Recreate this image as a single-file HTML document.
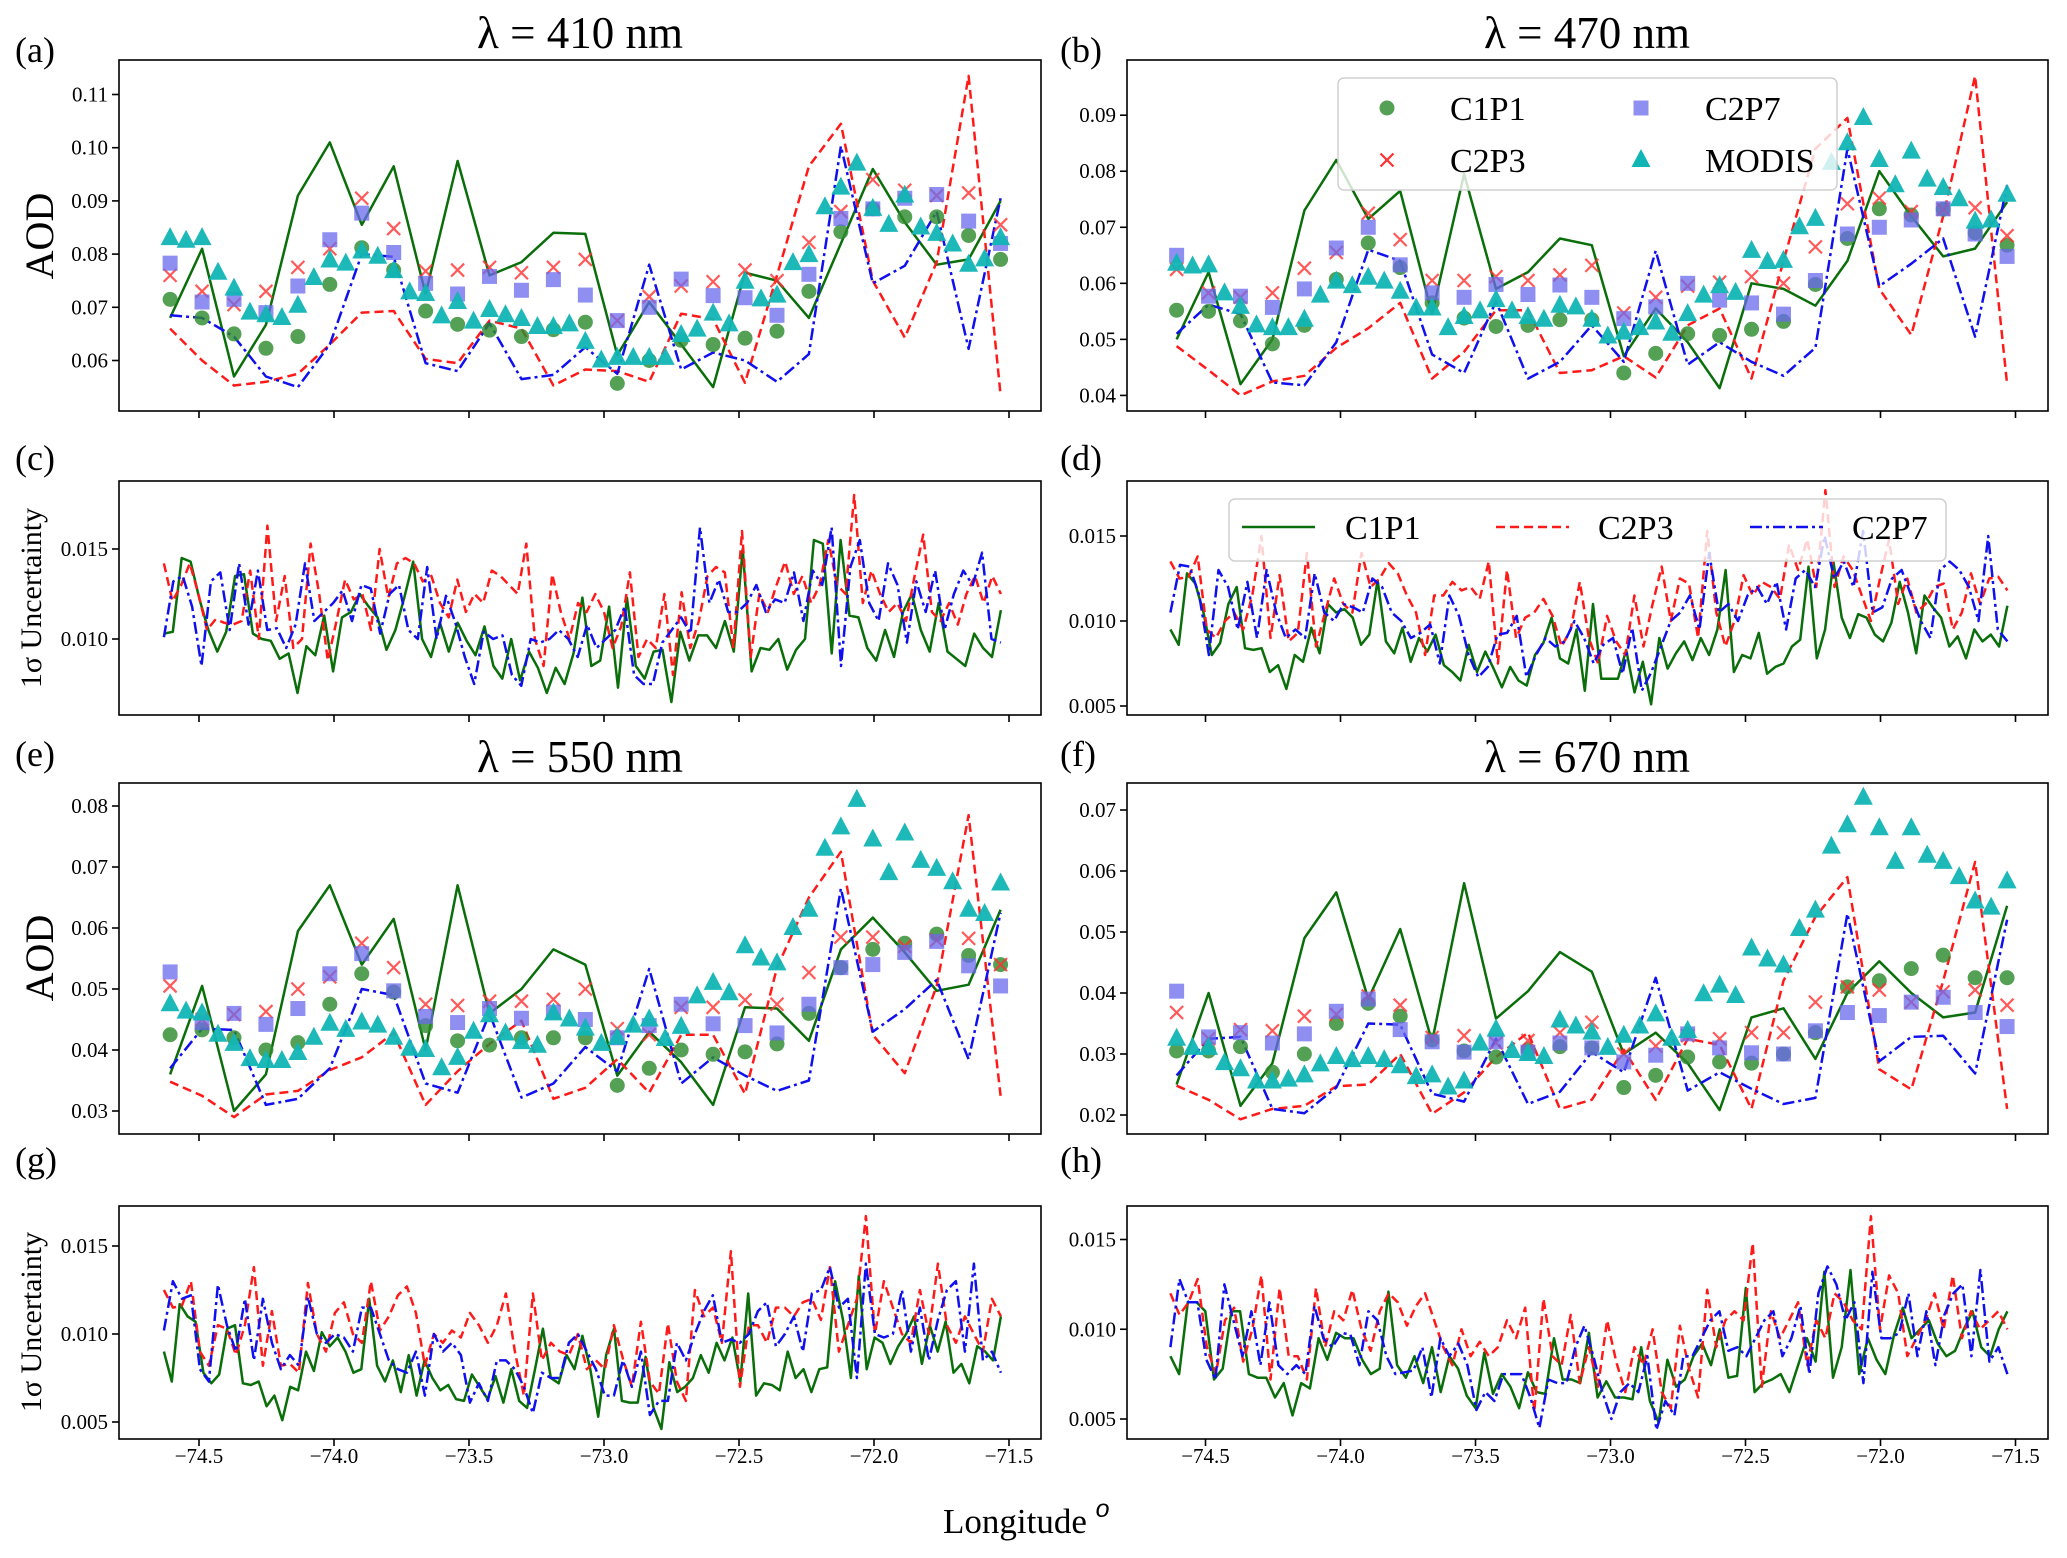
<!DOCTYPE html>
<html><head><meta charset="utf-8"><style>
html,body{margin:0;padding:0;background:#fff;}
svg{display:block;font-family:"Liberation Serif",serif;}
</style></head><body>
<svg id="fig" width="2067" height="1558" viewBox="0 0 2067 1558" xmlns="http://www.w3.org/2000/svg"></svg>
<script>
// ---------- DATA ----------
const aodLonStart = -74.607, aodLonStep = 0.1183;   // 27 retrieval points
const modisLonStep = 0.05915;                        // 53 MODIS points
const uncLonStart = -74.63, uncLonEnd = -71.53;
const xTicks = [-74.5, -74.0, -73.5, -73.0, -72.5, -72.0, -71.5];
const xTickLabels = ["\u221274.5","\u221274.0","\u221273.5","\u221273.0","\u221272.5","\u221272.0","\u221271.5"];

// Panel (a) 410 nm
const a_lineC1P1 = [0.068,0.081,0.057,0.0667,0.091,0.101,0.0855,0.0965,0.0725,0.0975,0.076,0.0785,0.084,0.0838,0.061,0.071,0.063,0.055,0.0765,0.075,0.068,0.082,0.096,0.086,0.078,0.079,0.090];
const a_lineC2P3 = [0.066,0.060,0.0553,0.056,0.0575,0.063,0.069,0.0693,0.0603,0.0595,0.0675,0.066,0.0553,0.0583,0.058,0.056,0.0688,0.0678,0.0558,0.076,0.0965,0.1045,0.075,0.0643,0.0785,0.1135,0.0535];
const a_lineC2P7 = [0.0685,0.068,0.0645,0.057,0.055,0.063,0.080,0.0795,0.0595,0.058,0.067,0.0565,0.0573,0.0625,0.0575,0.078,0.0583,0.0615,0.060,0.056,0.0612,0.1003,0.0745,0.0778,0.088,0.0622,0.0905];
const a_ptC1P1 = [0.0715,0.068,0.065,0.0623,0.0645,0.0743,0.0812,0.077,0.0693,0.0668,0.0657,0.0645,0.0658,0.0672,0.0557,0.060,0.0638,0.063,0.0642,0.0655,0.073,0.0842,0.0885,0.087,0.087,0.0835,0.079];
const a_ptC2P3 = [0.076,0.073,0.0705,0.073,0.0775,0.081,0.0905,0.0848,0.0768,0.077,0.0775,0.0765,0.0775,0.079,0.0675,0.072,0.074,0.0748,0.077,0.075,0.0822,0.088,0.094,0.092,0.091,0.0915,0.0855];
const a_ptC2P7 = [0.0783,0.071,0.0715,0.069,0.074,0.0827,0.0877,0.0803,0.0745,0.0725,0.0758,0.0732,0.0752,0.0723,0.0675,0.070,0.0753,0.0722,0.0718,0.0685,0.0762,0.0867,0.0885,0.0905,0.0912,0.0862,0.082];
const a_modis = [0.083,0.0825,0.083,0.0765,0.0735,0.069,0.0685,0.068,0.0703,0.0755,0.0788,0.0782,0.0805,0.0795,0.0768,0.0728,0.0725,0.0683,0.071,0.0673,0.0695,0.0685,0.0678,0.0663,0.0663,0.0668,0.0635,0.060,0.0605,0.0605,0.0605,0.0605,0.0648,0.0658,0.0688,0.0668,0.0748,0.0715,0.0722,0.0783,0.0798,0.0888,0.0925,0.097,0.0885,0.0855,0.091,0.085,0.0838,0.0818,0.078,0.079,0.083];

// Panel (b) 470 nm
const b_lineC1P1 = [0.050,0.062,0.042,0.050,0.073,0.082,0.0715,0.0765,0.0545,0.0795,0.059,0.062,0.068,0.0668,0.047,0.0555,0.0495,0.0413,0.060,0.059,0.056,0.064,0.080,0.072,0.0648,0.0662,0.0745];
const b_lineC2P3 = [0.0488,0.0445,0.040,0.0425,0.0435,0.0485,0.052,0.0565,0.043,0.0478,0.0552,0.0552,0.044,0.0445,0.047,0.0432,0.0525,0.0555,0.043,0.064,0.084,0.0895,0.059,0.0508,0.072,0.097,0.042];
const b_lineC2P7 = [0.051,0.0562,0.0545,0.0423,0.0418,0.0495,0.066,0.064,0.0473,0.044,0.0568,0.043,0.046,0.0525,0.046,0.0658,0.0455,0.0495,0.046,0.0435,0.0485,0.084,0.0595,0.0635,0.068,0.0505,0.0775];
const b_ptC1P1 = [0.0552,0.055,0.0533,0.0492,0.0525,0.0607,0.0672,0.0628,0.0565,0.0538,0.0523,0.0525,0.0535,0.0535,0.044,0.0475,0.051,0.0507,0.0518,0.0532,0.0598,0.068,0.0733,0.0722,0.0732,0.069,0.0668];
const b_ptC2P3 = [0.0625,0.0583,0.0575,0.0583,0.0627,0.0655,0.0725,0.0678,0.0605,0.0605,0.0612,0.0605,0.0615,0.0632,0.0547,0.0575,0.0595,0.0602,0.0612,0.060,0.0665,0.0742,0.0752,0.0728,0.0732,0.0735,0.0685];
const b_ptC2P7 = [0.065,0.0577,0.0577,0.0557,0.059,0.0663,0.070,0.0633,0.0583,0.0575,0.0598,0.058,0.0597,0.0575,0.0537,0.0558,0.060,0.057,0.0565,0.0545,0.0605,0.0688,0.070,0.0713,0.0733,0.0688,0.0648];
const b_modis = [0.0635,0.063,0.0632,0.0582,0.0558,0.0525,0.052,0.052,0.0535,0.0578,0.0603,0.0595,0.061,0.0603,0.0585,0.0555,0.0555,0.052,0.054,0.055,0.057,0.055,0.054,0.0535,0.056,0.0557,0.0535,0.0505,0.0512,0.052,0.053,0.051,0.0545,0.0578,0.0595,0.0583,0.0658,0.0638,0.064,0.070,0.0715,0.0815,0.085,0.0895,0.082,0.0775,0.0835,0.0785,0.077,0.075,0.071,0.0712,0.0758];

// Panel (e) 550 nm
const e_lineC1P1 = [0.036,0.0505,0.030,0.036,0.0595,0.067,0.054,0.0615,0.040,0.067,0.046,0.050,0.0565,0.054,0.0358,0.043,0.038,0.031,0.047,0.0468,0.0415,0.0565,0.0617,0.056,0.0497,0.0507,0.063];
const e_lineC2P3 = [0.0348,0.0325,0.029,0.0327,0.0333,0.0367,0.0388,0.0428,0.031,0.0365,0.041,0.0448,0.032,0.0338,0.0385,0.033,0.0425,0.0425,0.0328,0.0535,0.065,0.0725,0.0425,0.0362,0.0505,0.0785,0.0325];
const e_lineC2P7 = [0.037,0.0435,0.0433,0.031,0.032,0.037,0.050,0.049,0.0345,0.033,0.046,0.0322,0.0345,0.0405,0.0365,0.0533,0.0345,0.0388,0.0358,0.0333,0.035,0.0665,0.043,0.0467,0.0515,0.0385,0.0625];
const e_ptC1P1 = [0.0425,0.0433,0.042,0.040,0.0412,0.0475,0.0525,0.0495,0.044,0.0415,0.0408,0.042,0.042,0.042,0.0342,0.037,0.040,0.0393,0.0397,0.041,0.046,0.0535,0.0565,0.0575,0.059,0.0555,0.054];
const e_ptC2P3 = [0.0505,0.045,0.0458,0.0463,0.050,0.052,0.0575,0.0535,0.0475,0.0473,0.048,0.048,0.0483,0.050,0.0435,0.0425,0.047,0.047,0.0482,0.0475,0.0527,0.0585,0.0585,0.057,0.058,0.0583,0.054];
const e_ptC2P7 = [0.0528,0.0445,0.046,0.0442,0.0468,0.0525,0.0558,0.0497,0.0455,0.0445,0.0468,0.0452,0.0462,0.045,0.042,0.044,0.0475,0.0443,0.044,0.0428,0.0475,0.0535,0.054,0.056,0.0578,0.0538,0.0505];
const e_modis = [0.0475,0.0463,0.046,0.0425,0.041,0.0385,0.0382,0.0382,0.0395,0.042,0.0443,0.0433,0.0445,0.044,0.042,0.0402,0.040,0.037,0.0387,0.043,0.0457,0.0427,0.0413,0.0407,0.046,0.045,0.0435,0.041,0.042,0.044,0.045,0.0418,0.0438,0.0488,0.051,0.0493,0.057,0.055,0.0542,0.060,0.063,0.073,0.0765,0.081,0.0745,0.069,0.0755,0.071,0.0697,0.0675,0.063,0.0623,0.0673];

// Panel (f) 670 nm
const f_lineC1P1 = [0.025,0.040,0.0215,0.0285,0.049,0.0565,0.039,0.0505,0.032,0.058,0.0358,0.0403,0.0467,0.0435,0.030,0.0335,0.0285,0.0208,0.036,0.0375,0.0292,0.040,0.0452,0.040,0.036,0.0368,0.0543];
const f_lineC2P3 = [0.0248,0.0225,0.0193,0.021,0.0215,0.0247,0.025,0.030,0.0202,0.0237,0.0295,0.0335,0.021,0.0225,0.0307,0.0225,0.0325,0.0315,0.021,0.042,0.0525,0.059,0.0275,0.0242,0.042,0.0615,0.021];
const f_lineC2P7 = [0.0265,0.0325,0.0328,0.021,0.0203,0.0245,0.035,0.0348,0.0235,0.0222,0.0325,0.0218,0.0238,0.0303,0.027,0.0425,0.024,0.027,0.0243,0.0218,0.0228,0.053,0.0288,0.0328,0.033,0.0268,0.052];
const f_ptC1P1 = [0.0305,0.0305,0.0312,0.027,0.030,0.035,0.0383,0.0362,0.0323,0.0305,0.0295,0.0307,0.0312,0.031,0.0245,0.0265,0.0295,0.0287,0.0285,0.030,0.0335,0.041,0.042,0.044,0.0462,0.0425,0.0425];
const f_ptC2P3 = [0.0368,0.0325,0.034,0.0338,0.0362,0.0365,0.0395,0.038,0.0327,0.033,0.0318,0.0322,0.0335,0.0352,0.030,0.0313,0.033,0.0325,0.0335,0.0335,0.0385,0.041,0.0405,0.0385,0.0402,0.0405,0.038];
const f_ptC2P7 = [0.0403,0.0328,0.0335,0.0318,0.0333,0.037,0.039,0.034,0.032,0.0303,0.032,0.0303,0.0318,0.031,0.0287,0.0298,0.0333,0.031,0.0302,0.030,0.0338,0.0368,0.0363,0.0385,0.0393,0.0368,0.0345];
const f_modis = [0.0325,0.031,0.031,0.0285,0.0275,0.0255,0.0255,0.0258,0.0265,0.0283,0.0295,0.029,0.0295,0.029,0.028,0.0262,0.0265,0.0245,0.0255,0.0317,0.034,0.0305,0.030,0.0295,0.0355,0.0345,0.0335,0.031,0.033,0.0345,0.0365,0.0325,0.0338,0.0398,0.0412,0.0395,0.0473,0.0455,0.0445,0.0505,0.0535,0.064,0.0675,0.072,0.067,0.0615,0.067,0.0625,0.0615,0.059,0.055,0.054,0.0583];

// Uncertainty panels (values in units of 1e-3)
const c_C1P1 = [10.3,10.4,14.5,14.3,12.2,10.5,9.3,10.4,13.5,13.6,10.3,10.0,9.9,8.9,9.2,7.0,9.6,9.1,11.3,8.2,11.2,11.5,12.5,11.8,11.2,9.4,10.5,12.3,14.3,10.0,9.0,10.9,9.3,10.9,9.9,9.1,10.7,8.5,7.8,10.0,7.7,9.3,8.4,7.0,8.4,7.5,9.2,12.3,8.5,8.8,11.8,7.3,12.3,8.5,7.8,9.3,9.4,6.5,10.4,8.8,10.2,10.2,9.5,11.0,9.3,15.0,8.2,9.5,9.4,10.0,8.3,9.4,10.0,15.5,15.3,9.2,15.5,11.3,11.2,9.5,8.8,10.5,9.0,11.5,12.5,10.5,9.3,12.0,9.3,8.9,8.5,10.3,9.5,9.0,11.6];
const c_C2P3 = [14.2,12.1,13.0,14.2,12.5,10.5,11.1,10.9,10.8,11.0,13.8,10.0,16.3,11.0,13.5,9.5,10.0,15.3,12.5,8.8,11.0,13.3,12.2,12.5,10.5,15.0,12.3,14.2,14.5,14.2,13.2,13.5,12.0,11.2,13.3,11.5,12.5,12.0,13.8,13.5,13.0,12.5,15.3,10.0,8.5,13.6,11.5,10.0,12.0,11.5,12.5,11.5,9.5,10.7,13.7,9.0,10.0,9.5,12.5,8.0,12.6,9.5,11.0,13.5,14.0,13.7,9.5,16.0,9.0,12.5,11.5,13.0,14.3,12.5,13.5,12.0,13.0,15.5,13.0,12.5,18.0,12.0,13.8,12.5,11.5,12.0,11.0,13.5,15.8,11.5,11.0,12.0,10.8,12.5,13.5,12.0,13.5,12.5];
const c_C2P7 = [10.1,13.2,13.5,11.8,8.5,13.2,13.7,10.5,14.2,10.8,13.8,10.5,10.6,9.5,10.8,14.2,11.0,11.5,12.0,12.7,11.0,13.0,12.8,10.3,12.5,13.0,10.5,10.0,14.0,10.0,12.4,10.9,9.0,7.5,10.4,10.0,10.2,8.0,7.4,10.0,9.8,10.0,10.5,10.0,9.0,10.8,9.5,10.0,10.5,11.8,8.0,7.5,7.5,9.8,10.5,11.2,10.3,16.2,12.0,13.3,11.5,11.5,12.0,13.0,11.5,12.2,12.0,13.7,11.0,13.8,13.0,16.2,8.5,14.0,15.5,12.0,11.0,14.2,13.0,9.8,13.2,11.5,13.8,10.5,12.5,13.8,13.0,14.8,10.0,9.8];
const d_C1P1 = [9.5,8.6,12.8,12.2,10.5,8.0,8.7,11.0,12.0,8.4,8.3,8.4,7.0,7.4,6.0,8.0,7.6,9.6,8.1,11.0,10.5,10.7,10.2,8.6,9.2,12.4,8.8,8.1,9.6,7.6,9.0,8.2,9.2,7.4,7.0,6.5,8.6,7.0,8.2,7.2,6.1,7.3,6.5,6.2,8.0,8.7,10.2,7.8,7.5,9.5,5.9,11.0,6.6,6.6,6.6,8.3,5.8,7.6,5.1,9.0,7.2,8.1,8.8,7.7,9.0,8.0,9.5,13.0,7.0,8.0,7.8,9.3,6.9,7.3,7.5,8.5,8.9,13.2,7.8,9.5,13.5,10.2,9.0,10.4,10.2,9.2,8.8,9.9,12.3,10.5,8.1,11.5,10.8,10.2,8.5,9.1,7.8,9.5,8.8,9.2,8.5,10.9];
const d_C2P3 = [13.5,12.5,12.6,13.8,9.5,9.0,10.0,10.5,9.5,11.5,15.0,9.0,12.7,8.8,9.3,14.0,8.5,10.5,12.5,11.0,10.5,14.0,12.0,12.5,13.4,12.8,11.5,10.5,8.0,11.5,11.5,12.3,11.8,12.0,11.3,13.5,7.5,13.0,9.0,10.2,10.5,11.3,10.3,8.5,9.5,12.3,9.0,7.5,10.3,8.8,8.0,11.5,8.5,11.0,13.2,10.0,12.5,12.2,9.0,15.3,10.5,8.5,10.0,12.7,11.5,12.3,12.0,11.3,14.5,13.0,14.8,12.0,17.7,12.0,13.8,13.0,11.5,10.0,12.5,14.8,11.0,12.5,10.5,11.0,12.0,12.2,9.5,10.5,12.8,11.0,12.5,12.6,11.8];
const d_C2P7 = [10.5,13.3,13.2,11.5,8.0,13.0,12.0,9.5,12.3,9.0,13.0,10.5,9.0,9.5,9.0,12.8,10.5,10.0,11.0,10.8,10.5,12.5,12.0,10.5,10.0,9.0,9.3,9.8,7.5,11.5,10.3,8.0,6.7,7.3,9.2,9.3,10.3,6.7,8.0,9.0,8.5,8.8,10.0,9.0,7.5,8.6,9.0,6.9,9.6,5.9,7.0,8.5,10.0,10.5,11.5,9.5,14.0,10.5,11.0,10.0,11.5,12.0,11.0,12.3,9.5,12.5,13.0,12.0,15.0,12.5,13.5,12.0,15.3,10.5,10.8,12.5,13.0,11.5,10.0,9.0,13.0,13.5,13.0,12.0,10.0,15.0,9.5,8.8];
const g_C1P1 = [9.0,7.3,11.7,11.0,10.7,7.8,7.2,7.7,10.3,10.5,7.2,7.1,7.3,5.9,6.5,5.1,7.0,6.8,9.0,7.9,10.1,9.3,9.8,9.0,7.8,8.0,12.0,8.2,7.3,8.5,6.7,8.8,6.5,8.5,7.5,6.8,7.1,6.3,6.2,7.7,7.0,6.3,7.6,6.1,8.0,6.2,5.8,8.0,10.3,7.5,7.2,8.8,8.0,9.9,8.0,5.3,8.8,10.3,6.2,6.1,6.1,8.7,5.8,4.6,8.4,6.7,7.0,7.5,8.8,7.8,9.5,8.5,9.8,7.3,12.3,6.5,7.2,7.1,6.8,9.0,7.5,8.0,6.7,8.0,8.1,13.0,10.8,7.5,13.3,8.0,9.8,9.5,8.3,9.3,10.0,11.0,8.3,10.5,9.0,10.7,7.8,8.3,7.2,9.3,9.0,8.5,11.0];
const g_C2P3 = [12.5,11.5,11.6,13.0,9.0,8.2,10.5,10.3,8.8,10.5,13.8,8.2,11.3,8.2,8.3,7.8,12.9,10.0,9.0,11.2,11.8,10.0,9.5,13.0,10.2,11.0,12.2,12.7,11.2,8.2,10.0,9.5,10.2,9.8,11.2,10.5,9.5,10.5,12.3,9.0,6.5,12.3,8.5,9.5,9.0,8.8,10.0,8.0,8.5,8.0,10.5,8.6,7.0,10.7,7.3,6.6,10.6,7.3,6.2,12.5,11.0,11.5,9.5,14.7,7.0,10.5,10.5,9.5,11.5,11.5,11.0,11.8,12.0,10.8,13.8,9.0,10.5,12.0,16.7,10.0,13.0,11.5,10.0,9.5,12.5,10.0,14.0,10.5,9.5,11.0,10.0,9.0,12.0,11.0];
const g_C2P7 = [10.2,13.0,12.0,12.2,8.0,7.3,12.8,10.5,9.0,12.0,8.5,12.0,9.5,8.0,8.8,8.2,12.1,10.0,9.5,10.0,9.8,9.0,11.5,11.5,10.0,8.5,8.0,7.8,9.0,6.5,10.0,9.0,9.5,8.8,6.1,7.2,6.2,8.5,8.5,8.0,7.0,5.5,7.8,7.5,7.5,9.5,10.0,9.0,8.0,6.5,6.5,8.5,7.0,9.0,5.4,6.2,6.2,9.5,8.5,10.0,11.3,12.2,9.5,9.7,9.5,10.0,11.3,11.8,9.3,10.0,11.0,9.0,12.3,12.5,13.8,11.5,12.0,7.5,14.0,10.0,9.8,10.0,12.5,9.0,11.5,8.5,10.8,12.5,13.0,9.0,14.0,8.5,9.0,7.8];
const h_C1P1 = [8.5,7.5,11.5,11.5,11.0,7.2,7.8,11.0,11.0,7.5,7.3,7.3,6.2,7.0,5.2,7.0,6.7,9.5,8.3,9.8,9.5,9.5,8.3,7.5,7.8,12.1,8.0,7.3,8.5,7.0,9.0,6.5,8.5,7.8,6.3,5.6,8.7,6.4,7.5,6.8,5.6,7.6,6.5,6.4,9.5,7.2,7.2,7.0,9.8,6.2,7.1,6.2,6.2,6.1,9.0,6.0,4.8,8.3,6.8,7.2,8.5,9.2,8.0,10.0,7.3,7.4,12.3,6.5,7.0,7.2,7.5,6.5,8.0,9.5,8.2,13.2,7.3,9.0,13.3,7.5,9.5,8.3,7.5,9.7,11.2,9.5,10.0,10.5,9.2,8.5,8.8,10.0,11.0,9.0,8.5,10.0,11.0];
const h_C2P3 = [12.0,10.8,11.5,12.8,9.0,7.5,10.5,11.2,8.2,10.0,13.0,7.2,12.3,8.5,8.5,7.2,12.3,9.0,11.0,10.5,12.2,10.0,8.8,11.0,12.0,11.5,10.2,11.3,12.0,10.5,9.0,8.0,10.0,8.5,9.3,8.5,9.0,10.5,9.5,11.2,5.4,11.7,8.5,8.0,10.8,7.0,9.0,6.8,10.5,8.2,6.5,9.0,8.0,10.0,6.5,5.6,10.2,7.8,6.2,12.2,9.0,10.5,11.0,10.5,14.8,6.8,11.0,9.5,10.5,11.5,8.0,10.5,9.5,12.0,11.5,10.5,10.0,16.3,10.0,13.0,12.0,8.5,9.5,10.5,12.0,10.0,13.0,9.5,11.0,10.0,10.5,11.0,10.0];
const h_C2P7 = [9.0,12.8,11.5,11.5,8.3,7.2,12.5,10.5,8.5,11.0,8.0,11.5,8.0,7.5,8.0,7.5,11.3,9.5,9.0,9.8,9.7,8.0,11.0,10.5,8.5,7.5,7.6,7.7,9.0,6.2,9.5,8.5,9.2,8.0,5.5,6.5,6.0,7.5,7.5,7.5,6.2,4.5,7.2,7.0,7.0,9.0,10.2,8.5,6.5,5.0,6.5,7.0,6.5,8.5,4.4,6.0,5.2,8.5,8.5,9.5,10.5,11.0,8.8,9.0,8.5,9.5,10.5,11.0,8.5,9.5,11.3,7.5,12.0,13.5,12.5,10.5,11.5,7.0,13.2,9.5,9.5,9.8,12.0,8.5,11.0,8.0,10.8,12.0,12.5,8.5,13.3,8.2,9.0,7.5];

// tick values/labels
const a_yTicks = [0.06,0.07,0.08,0.09,0.10,0.11];
const b_yTicks = [0.04,0.05,0.06,0.07,0.08,0.09];
const e_yTicks = [0.03,0.04,0.05,0.06,0.07,0.08];
const f_yTicks = [0.02,0.03,0.04,0.05,0.06,0.07];
const c_yTicks = [10,15];
const u_yTicks = [5,10,15];
// ---------- END DATA ----------

const NS = "http://www.w3.org/2000/svg";
const svg = document.getElementById('fig');
function el(tag, attrs, parent){
  const e = document.createElementNS(NS, tag);
  for (const k in attrs) e.setAttribute(k, attrs[k]);
  (parent||svg).appendChild(e);
  return e;
}
const LEFT = {x0:119, x1:1041, xa:199};
const RIGHT = {x0:1127, x1:2048, xa:1205.5};
const PXDEG = 270;

function makePanel(name, col, top, bot, v1, p1, v2, p2, yTicks, fmt){
  const g = el('g', {});
  
  
  const xs = lon => col.xa + (lon + 74.5) * PXDEG;
  const ys = v => p1 + (v - v1) * (p2 - p1) / (v2 - v1);
  const cid = 'clip-' + name;
  const cp = el('clipPath', {id: cid}, g);
  el('rect', {x: col.x0, y: top, width: col.x1 - col.x0, height: bot - top}, cp);
  const plot = el('g', {'clip-path': 'url(#' + cid + ')'}, g);
  
  
  xTicks.forEach((t, i) => {
    const tk = el('line', {x1: xs(t), x2: xs(t), y1: bot, y2: bot + 7, stroke: '#000', 'stroke-width': 1.6}, g);
    
    
  });
  yTicks.forEach(t => {
    const y = ys(t);
    const tk = el('line', {x1: col.x0 - 7, x2: col.x0, y1: y, y2: y, stroke: '#000', 'stroke-width': 1.6}, g);
    
    
    const tl = el('text', {x: col.x0 - 11, y: y + 7, 'text-anchor': 'end', 'font-size': 21, fill: '#000'}, g);
    
    
    tl.textContent = fmt(t);
  });
  const fr = el('rect', {x: col.x0, y: top, width: col.x1 - col.x0, height: bot - top, fill: 'none', stroke: '#000', 'stroke-width': 1.6}, g);
  
  
  return {g, plot, xs, ys};
}

function drawLine(P, lons, vals, color, dash, nm){
  const pts = vals.map((v, i) => P.xs(lons(i)).toFixed(1) + ',' + P.ys(v).toFixed(1)).join(' ');
  const pl = el('polyline', {points: pts, fill: 'none', stroke: color, 'stroke-width': 2.5, 'stroke-dasharray': dash, 'stroke-linejoin': 'round'}, P.plot);
  
  
}
function drawMarkers(P, lons, vals, kind, nm){
  const grp = el('g', {}, P.plot);
  
  
  vals.forEach((v, i) => {
    const x = P.xs(lons(i)), y = P.ys(v);
    let m;
    if (kind === 'circle') m = el('circle', {cx: x, cy: y, r: 7.5, fill: '#2e8b2e', 'fill-opacity': 0.82}, grp);
    else if (kind === 'square') m = el('rect', {x: x - 7.5, y: y - 7.5, width: 15, height: 15, fill: '#6a6aee', 'fill-opacity': 0.75}, grp);
    else if (kind === 'x') m = el('path', {d: `M${x-6.5},${y-6.5}L${x+6.5},${y+6.5}M${x-6.5},${y+6.5}L${x+6.5},${y-6.5}`, stroke: '#ff3030', 'stroke-opacity': 0.8, 'stroke-width': 2.2, fill: 'none'}, grp);
    else m = el('path', {d: `M${x},${y-11}L${x+9.5},${y+7}L${x-9.5},${y+7}Z`, fill: '#11b5b5', 'fill-opacity': 0.95}, grp);
    
    
  });
}

const lonAod = i => aodLonStart + i * aodLonStep;
const lonModis = i => aodLonStart + i * modisLonStep;
const fmt2 = v => v.toFixed(2);
const fmt3 = v => (v / 1000).toFixed(3);

function aodPanel(name, col, top, bot, v1, p1, v2, p2, ticks, L1, L3, L7, P1, P3, P7, MO){
  const P = makePanel(name, col, top, bot, v1, p1, v2, p2, ticks, fmt2);
  drawLine(P, lonAod, L1, '#0a6e0a', 'none', name + '-c1p1-line');
  drawLine(P, lonAod, L3, '#ff1a1a', '9,5', name + '-c2p3-line');
  drawLine(P, lonAod, L7, '#1010ee', '12,4,3,4', name + '-c2p7-line');
  drawMarkers(P, lonAod, P1, 'circle', name + '-c1p1-points');
  drawMarkers(P, lonAod, P3, 'x', name + '-c2p3-points');
  drawMarkers(P, lonAod, P7, 'square', name + '-c2p7-points');
  drawMarkers(P, lonModis, MO, 'tri', name + '-modis-points');
  return P;
}
function uncPanel(name, col, top, bot, v1, p1, v2, p2, ticks, U1, U3, U7){
  const P = makePanel(name, col, top, bot, v1, p1, v2, p2, ticks, fmt3);
  const lonU = arr => i => uncLonStart + i * (uncLonEnd - uncLonStart) / (arr.length - 1);
  drawLine(P, lonU(U1), U1, '#0a6e0a', 'none', name + '-c1p1-line');
  drawLine(P, lonU(U3), U3, '#ff1a1a', '9,5', name + '-c2p3-line');
  drawLine(P, lonU(U7), U7, '#1010ee', '12,4,3,4', name + '-c2p7-line');
  return P;
}

aodPanel('panel-a-410nm', LEFT, 60, 411, 0.11, 94.5, 0.06, 360.5, a_yTicks, a_lineC1P1, a_lineC2P3, a_lineC2P7, a_ptC1P1, a_ptC2P3, a_ptC2P7, a_modis);
aodPanel('panel-b-470nm', RIGHT, 60, 411, 0.09, 115.2, 0.04, 395.4, b_yTicks, b_lineC1P1, b_lineC2P3, b_lineC2P7, b_ptC1P1, b_ptC2P3, b_ptC2P7, b_modis);
uncPanel('panel-c-uncertainty', LEFT, 481, 715, 15, 549, 10, 639, c_yTicks, c_C1P1, c_C2P3, c_C2P7);
uncPanel('panel-d-uncertainty', RIGHT, 481, 715, 15, 536, 5, 706, u_yTicks, d_C1P1, d_C2P3, d_C2P7);
aodPanel('panel-e-550nm', LEFT, 783, 1134, 0.08, 806, 0.03, 1111, e_yTicks, e_lineC1P1, e_lineC2P3, e_lineC2P7, e_ptC1P1, e_ptC2P3, e_ptC2P7, e_modis);
aodPanel('panel-f-670nm', RIGHT, 783, 1134, 0.07, 810, 0.02, 1115, f_yTicks, f_lineC1P1, f_lineC2P3, f_lineC2P7, f_ptC1P1, f_ptC2P3, f_ptC2P7, f_modis);
const PG = uncPanel('panel-g-uncertainty', LEFT, 1206, 1439, 15, 1246, 5, 1422, u_yTicks, g_C1P1, g_C2P3, g_C2P7);
const PH = uncPanel('panel-h-uncertainty', RIGHT, 1206, 1439, 15, 1239.5, 5, 1419, u_yTicks, h_C1P1, h_C2P3, h_C2P7);

[[PG, LEFT], [PH, RIGHT]].forEach(([P, col]) => {
  xTicks.forEach((t, i) => {
    const tl = el('text', {x: P.xs(t), y: 1463, 'text-anchor': 'middle', 'font-size': 21, fill: '#000'}, P.g);
    
    
    tl.textContent = xTickLabels[i];
  });
});

const lgB = el('g', {});


el('rect', {x: 1338, y: 78, width: 499, height: 112, rx: 6, fill: '#fff', 'fill-opacity': 0.8, stroke: '#d0d0d0', 'stroke-width': 1.5}, lgB);
const lgItems = [['C1P1','circle',1387,108,1450],['C2P3','x',1387,160,1450],['C2P7','square',1641,108,1705],['MODIS','tri',1641,160,1705]];
lgItems.forEach(([lab, kind, mx, my, tx]) => {
  const it = el('g', {}, lgB);
  
  
  if (kind === 'circle') el('circle', {cx: mx, cy: my, r: 7.5, fill: '#2e8b2e', 'fill-opacity': 0.82}, it);
  else if (kind === 'square') el('rect', {x: mx - 7.5, y: my - 7.5, width: 15, height: 15, fill: '#6a6aee', 'fill-opacity': 0.75}, it);
  else if (kind === 'x') el('path', {d: `M${mx-6.5},${my-6.5}L${mx+6.5},${my+6.5}M${mx-6.5},${my+6.5}L${mx+6.5},${my-6.5}`, stroke: '#ff3030', 'stroke-width': 2.2}, it);
  else el('path', {d: `M${mx},${my-11}L${mx+9.5},${my+7}L${mx-9.5},${my+7}Z`, fill: '#11b5b5'}, it);
  const t = el('text', {x: tx, y: my + 12, 'font-size': 34, fill: '#000'}, it);
  t.textContent = lab;
});
const lgD = el('g', {});


el('rect', {x: 1229, y: 499, width: 717, height: 62, rx: 6, fill: '#fff', 'fill-opacity': 0.8, stroke: '#d0d0d0', 'stroke-width': 1.5}, lgD);
[['C1P1','#0a6e0a','none',1242,1345],['C2P3','#ff1a1a','9,5',1496,1598],['C2P7','#1010ee','12,4,3,4',1750,1852]].forEach(([lab, c, d, lx, tx]) => {
  const it = el('g', {}, lgD);
  
  
  el('line', {x1: lx, x2: lx + 73, y1: 527, y2: 527, stroke: c, 'stroke-width': 2.5, 'stroke-dasharray': d}, it);
  const t = el('text', {x: tx, y: 539, 'font-size': 34, fill: '#000'}, it);
  t.textContent = lab;
});

function txt(name, attrs, content){
  const t = el('text', attrs);
  
  
  t.textContent = content;
  return t;
}
txt('title-410nm', {x: 580, y: 48, 'text-anchor': 'middle', 'font-size': 45}, 'λ = 410 nm');
txt('title-470nm', {x: 1587, y: 48, 'text-anchor': 'middle', 'font-size': 45}, 'λ = 470 nm');
txt('title-550nm', {x: 580, y: 772, 'text-anchor': 'middle', 'font-size': 45}, 'λ = 550 nm');
txt('title-670nm', {x: 1587, y: 772, 'text-anchor': 'middle', 'font-size': 45}, 'λ = 670 nm');
[['a',15,62],['c',15,470],['e',15,766],['g',15,1172],['b',1060,62],['d',1060,470],['f',1060,766],['h',1060,1172]].forEach(([l,x,y]) => {
  txt('panel-label-' + l, {x: x, y: y, 'font-size': 36}, '(' + l + ')');
});
txt('y-axis-title-aod-top', {x: 0, y: 0, transform: 'translate(53,236) rotate(-90)', 'text-anchor': 'middle', 'font-size': 40}, 'AOD');
txt('y-axis-title-aod-bottom', {x: 0, y: 0, transform: 'translate(53,958) rotate(-90)', 'text-anchor': 'middle', 'font-size': 40}, 'AOD');
txt('y-axis-title-unc-top', {x: 0, y: 0, transform: 'translate(41,598) rotate(-90)', 'text-anchor': 'middle', 'font-size': 30}, '1σ Uncertainty');
txt('y-axis-title-unc-bottom', {x: 0, y: 0, transform: 'translate(41,1322) rotate(-90)', 'text-anchor': 'middle', 'font-size': 30}, '1σ Uncertainty');
const xl = txt('x-axis-title', {x: 943, y: 1533, 'font-size': 35}, 'Longitude ');
const sup = el('tspan', {dy: -16, 'font-size': 25, 'font-style': 'italic', 'font-family': 'Liberation Sans, sans-serif'}, xl);
sup.textContent = 'o';
</script>
</body></html>
